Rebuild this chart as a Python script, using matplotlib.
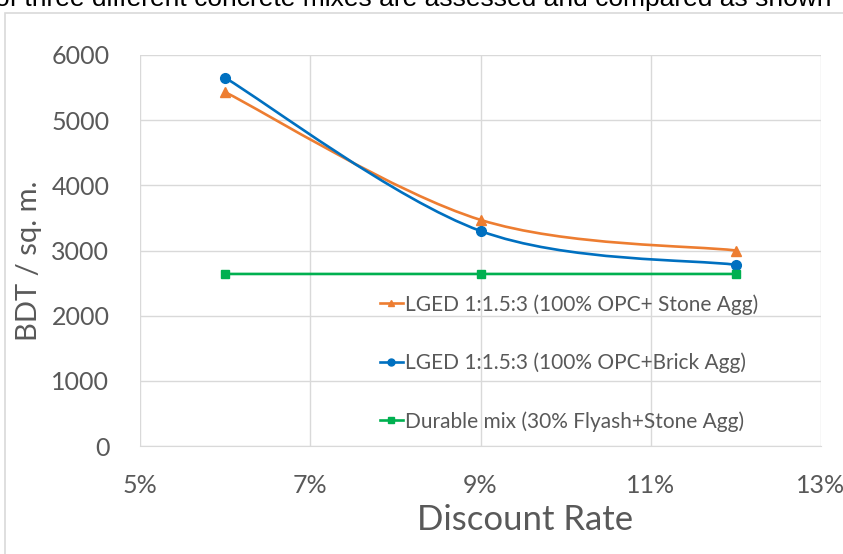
import matplotlib.pyplot as plt
import numpy as np
from matplotlib.lines import Line2D
from matplotlib.path import Path
from matplotlib.patches import PathPatch, Rectangle

# discount rates and cost per sq. m.
rates = [0.06, 0.09, 0.12]
stone_agg = [5430, 3470, 3000]
brick_agg = [5650, 3300, 2780]
flyash_mix = [2640, 2640, 2640]

labels = ['LGED 1:1.5:3 (100% OPC+ Stone Agg)',
          'LGED 1:1.5:3 (100% OPC+Brick Agg)',
          'Durable mix (30% Flyash+Stone Agg)']
colors = ['#ED7D31', '#0070C0', '#00B050']
markers = ['^', 'o', 's']
msizes = [7, 7, 6]

xticks = [0.05, 0.07, 0.09, 0.11, 0.13]
yticks = [0, 1000, 2000, 3000, 4000, 5000, 6000]

font = ['Lato', 'DejaVu Sans']
grey = '#595959'
grid = '#d9d9d9'


def smooth_path(x, y):
    # Excel-style smoothed line: cubic bezier segments through the points
    pts = np.column_stack([x, y]).astype(float)
    n = len(pts)
    verts = [pts[0]]
    codes = [Path.MOVETO]
    for i in range(n - 1):
        p0 = pts[i - 1] if i > 0 else pts[i]
        p1 = pts[i]
        p2 = pts[i + 1]
        p3 = pts[i + 2] if i + 2 < n else pts[i + 1]
        verts += [p1 + (p2 - p0) / 6, p2 - (p3 - p1) / 6, p2]
        codes += [Path.CURVE4] * 3
    return Path(verts, codes)


fig = plt.figure(figsize=(8.43, 5.54), dpi=100)

# outer chart frame and the cut-off line of text above it
fig.patches.append(Rectangle((5 / 843, -0.1), 1.1, (554 - 13) / 554 + 0.1,
                             transform=fig.transFigure, fill=False,
                             edgecolor=grid, linewidth=1.2))
fig.text(-5 / 843, 1 - 6 / 554,
         'of three different concrete mixes are assessed and compared as shown',
         ha='left', va='baseline', fontsize=19, color='black',
         family=['Liberation Sans', 'DejaVu Sans'])

ax = fig.add_axes([140 / 843, (554 - 446) / 554, (821 - 140) / 843, (446 - 55) / 554])

series = [stone_agg, brick_agg, flyash_mix]
handles = []
for vals, c, m, ms, lab in zip(series, colors, markers, msizes, labels):
    ax.add_patch(PathPatch(smooth_path(rates, vals), fill=False,
                           edgecolor=c, linewidth=1.9, zorder=3))
    ax.plot(rates, vals, linestyle='none', marker=m, markersize=ms,
            color=c, zorder=4)
    handles.append(Line2D([0], [0], color=c, marker=m, markersize=5,
                          linewidth=1.9, label=lab))

ax.set_xlim(0.05, 0.13)
ax.set_ylim(0, 6000)
ax.set_xticks(xticks)
ax.set_xticklabels(['{:.0f}%'.format(t * 100) for t in xticks])
ax.set_yticks(yticks)
ax.grid(True, color=grid, linewidth=1)
ax.set_axisbelow(True)
for s in ['top', 'right', 'left']:
    ax.spines[s].set_visible(False)
ax.spines['bottom'].set_color(grid)
ax.tick_params(length=0, colors=grey, labelsize=18)
ax.tick_params(axis='y', pad=22)
ax.tick_params(axis='x', pad=20)
for t in ax.get_xticklabels() + ax.get_yticklabels():
    t.set_family(font)

ax.set_xlabel('Discount Rate', fontsize=25, color=grey, family=font)
ax.xaxis.set_label_coords(0.565, -0.148)
ax.set_ylabel('BDT / sq. m.', fontsize=21, color=grey, family=font)
ax.yaxis.set_label_coords(-0.144, 0.473)

leg = ax.legend(handles=handles, loc='upper left', bbox_to_anchor=(0.34, 0.41),
                frameon=False, handlelength=1.1, handletextpad=0.1,
                labelspacing=1.82, borderaxespad=0,
                prop={'family': font, 'size': 15})
for t in leg.get_texts():
    t.set_color(grey)

plt.savefig('out.png', dpi=100)
